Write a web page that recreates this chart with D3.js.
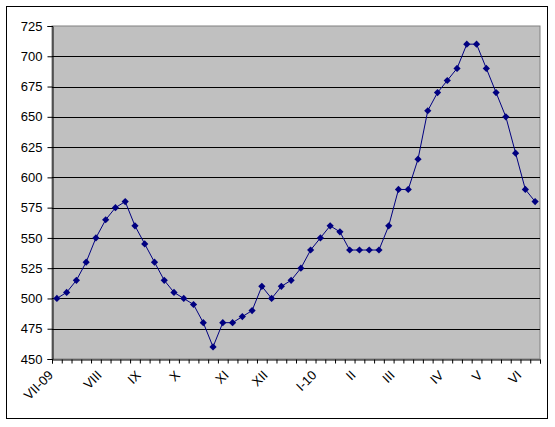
<!DOCTYPE html>
<html><head><meta charset="utf-8">
<script src="https://cdn.jsdelivr.net/npm/d3@7"></script>
<style>body{margin:0;background:#fff}svg{display:block}text{font-family:"Liberation Sans",Arial,sans-serif}</style>
</head><body>
<script>
const categories = ["VII-09","","","","","VIII","","","","IX","","","","X","","","","","XI","","","","XII","","","","","I-10","","","","II","","","","III","","","","","IV","","","","V","","","","VI",""];
const values = [500,505,515,530,550,565,575,580,560,545,530,515,505,500,495,480,460,480,480,485,490,510,500,510,515,525,540,550,560,555,540,540,540,540,560,590,590,615,655,670,680,690,710,710,690,670,650,620,590,580];
const yTicks = [450,475,500,525,550,575,600,625,650,675,700,725];

const W = 555, H = 427;
const m = {l:52, r:540, t:26, b:359};
const svg = d3.select("body").append("svg").attr("width",W).attr("height",H);
svg.append("rect").attr("x",6.5).attr("y",6.5).attr("width",541).attr("height",412).attr("fill","#fff").attr("stroke","#000").attr("stroke-width",1);

const x = d3.scaleLinear().domain([0, categories.length]).range([m.l, m.r]);
const y = d3.scaleLinear().domain([450,725]).range([m.b, m.t]);

svg.append("rect").attr("x",m.l).attr("y",m.t).attr("width",m.r-m.l).attr("height",m.b-m.t).attr("fill","#c0c0c0").attr("stroke","#808080").attr("stroke-width",1);

svg.append("g").selectAll("line").data(yTicks.filter(v=>v>450 && v<725)).join("line")
  .attr("x1",m.l).attr("x2",m.r).attr("y1",d=>Math.round(y(d))+0.5).attr("y2",d=>Math.round(y(d))+0.5)
  .attr("stroke","#000").attr("stroke-width",1);

const ya = svg.append("g").attr("transform",`translate(${m.l+0.5},0)`)
  .call(d3.axisLeft(y).tickValues(yTicks).tickSize(5).tickPadding(5));
ya.select(".domain").attr("stroke","#000");
ya.selectAll(".tick line").attr("stroke","#000");
ya.selectAll(".tick text").attr("font-size",13).attr("fill","#000").attr("font-family","Liberation Sans, Arial, sans-serif");

const xa = svg.append("g").attr("transform",`translate(0,${m.b+0.5})`)
  .call(d3.axisBottom(x).tickValues(d3.range(0,categories.length+1)).tickSize(4).tickFormat(""));
xa.select(".domain").attr("stroke","#000");
xa.selectAll(".tick line").attr("stroke","#000");

svg.append("g").selectAll("text").data(categories.map((c,i)=>({c,i})).filter(d=>d.c)).join("text")
  .attr("text-anchor","end").attr("font-size",13).attr("fill","#000")
  .attr("transform",d=>`translate(${x(d.i+0.5)-3},376) rotate(-45)`)
  .text(d=>d.c);

const line = d3.line().x((d,i)=>x(i+0.5)).y(d=>y(d));
svg.append("path").datum(values).attr("d",line).attr("fill","none").attr("stroke","#000080").attr("stroke-width",1);

const diamond = {draw(ctx, size){ const r = Math.sqrt(size/2); ctx.moveTo(0,-r); ctx.lineTo(r,0); ctx.lineTo(0,r); ctx.lineTo(-r,0); ctx.closePath(); }};
const sym = d3.symbol().type(diamond).size(26);
svg.append("g").selectAll("path").data(values).join("path")
  .attr("transform",(d,i)=>`translate(${x(i+0.5)},${y(d)})`)
  .attr("d",sym).attr("fill","#000080");
</script>
</body></html>
